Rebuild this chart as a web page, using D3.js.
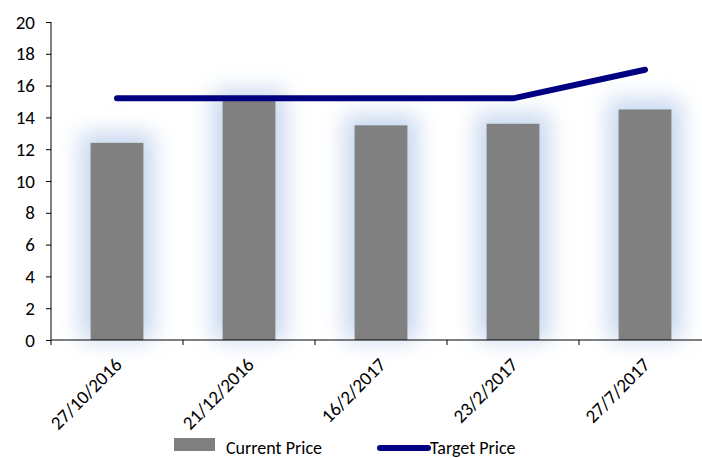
<!DOCTYPE html>
<html>
<head>
<meta charset="utf-8">
<script src="https://cdn.jsdelivr.net/npm/d3@7"></script>
<style>
  body { margin: 0; background: #fff; }
  text { font-family: Calibri, "Open Sans", "Noto Sans", sans-serif; fill: #000; }
</style>
</head>
<body>
<script>
// chart data
var dates = ['27/10/2016', '21/12/2016', '16/2/2017', '23/2/2017', '27/7/2017'];
var currentPrice = [12.4, 15.1, 13.5, 13.6, 14.5];
var targetPrice = [15.2, 15.2, 15.2, 15.2, 17.0];
var yTicks = [0, 2, 4, 6, 8, 10, 12, 14, 16, 18, 20];

var width = 702,
    height = 458;

var margin = { left: 51, top: 22, bottom: 118 };

var svg = d3.select('body').append('svg')
    .attr('width', width)
    .attr('height', height);

// soft blue glow behind the bars
var defs = svg.append('defs');
defs.append('filter')
    .attr('id', 'glow')
    .attr('x', '-80%').attr('y', '-80%')
    .attr('width', '260%').attr('height', '260%')
    .append('feGaussianBlur')
    .attr('stdDeviation', 11);

var x = d3.scaleBand()
    .domain(dates)
    .range([margin.left, margin.left + 132 * dates.length])
    .paddingInner(0.6)
    .paddingOuter(0.3);

var y = d3.scaleLinear()
    .domain([0, 20])
    .range([height - margin.bottom, margin.top]);

var g = svg.append('g');

// glow
g.selectAll('rect.glow')
    .data(currentPrice)
    .enter().append('rect')
    .attr('class', 'glow')
    .attr('x', function (d, i) { return x(dates[i]) - 10; })
    .attr('y', function (d) { return y(d) - 10; })
    .attr('width', x.bandwidth() + 20)
    .attr('height', function (d) { return y(0) - y(d) + 10; })
    .style('fill', '#c6d7ee')
    .attr('filter', 'url(#glow)');

// bars
g.selectAll('rect.bar')
    .data(currentPrice)
    .enter().append('rect')
    .attr('class', 'bar')
    .attr('x', function (d, i) { return x(dates[i]); })
    .attr('y', function (d) { return y(d); })
    .attr('width', x.bandwidth())
    .attr('height', function (d) { return y(0) - y(d); })
    .style('fill', '#808080');

// target line
var line = d3.line()
    .x(function (d, i) { return x(dates[i]) + x.bandwidth() / 2; })
    .y(function (d) { return y(d); });

g.append('path')
    .datum(targetPrice)
    .attr('d', line)
    .style('fill', 'none')
    .style('stroke', '#000080')
    .style('stroke-width', 6)
    .style('stroke-linecap', 'round')
    .style('stroke-linejoin', 'round');

// y axis
var yAxis = svg.append('g')
    .attr('transform', 'translate(' + margin.left + ',0)')
    .call(d3.axisLeft(y).tickValues(yTicks).tickSize(5).tickPadding(11));
yAxis.select('.domain').attr('d', 'M0,' + y(20) + 'V' + y(0));
yAxis.selectAll('text').style('font-size', '19px');

// x axis
var bandStep = x.step();
var xAxis = svg.append('g')
    .attr('transform', 'translate(0,' + y(0) + ')');
xAxis.append('line')
    .attr('x1', margin.left).attr('x2', width)
    .style('stroke', '#000');
xAxis.selectAll('line.tick')
    .data(dates)
    .enter().append('line')
    .attr('class', 'tick')
    .attr('x1', function (d, i) { return margin.left + i * bandStep; })
    .attr('x2', function (d, i) { return margin.left + i * bandStep; })
    .attr('y1', 0).attr('y2', 5)
    .style('stroke', '#000');
xAxis.selectAll('text')
    .data(dates)
    .enter().append('text')
    .attr('transform', function (d) {
        return 'translate(' + (x(d) + x.bandwidth() / 2 + 6) + ',26) rotate(-45)';
    })
    .style('text-anchor', 'end')
    .style('font-size', '19px')
    .text(function (d) { return d; });

// legend
var legend = svg.append('g');
legend.append('rect')
    .attr('x', 174).attr('y', 438)
    .attr('width', 41).attr('height', 13)
    .style('fill', '#808080');
legend.append('text')
    .attr('x', 226).attr('y', 454)
    .style('font-size', '18px')
    .text('Current Price');
legend.append('line')
    .attr('x1', 380).attr('x2', 428)
    .attr('y1', 448).attr('y2', 448)
    .style('stroke', '#000080')
    .style('stroke-width', 6)
    .style('stroke-linecap', 'round');
legend.append('text')
    .attr('x', 430).attr('y', 454)
    .style('font-size', '18px')
    .text('Target Price');
</script>
</body>
</html>
